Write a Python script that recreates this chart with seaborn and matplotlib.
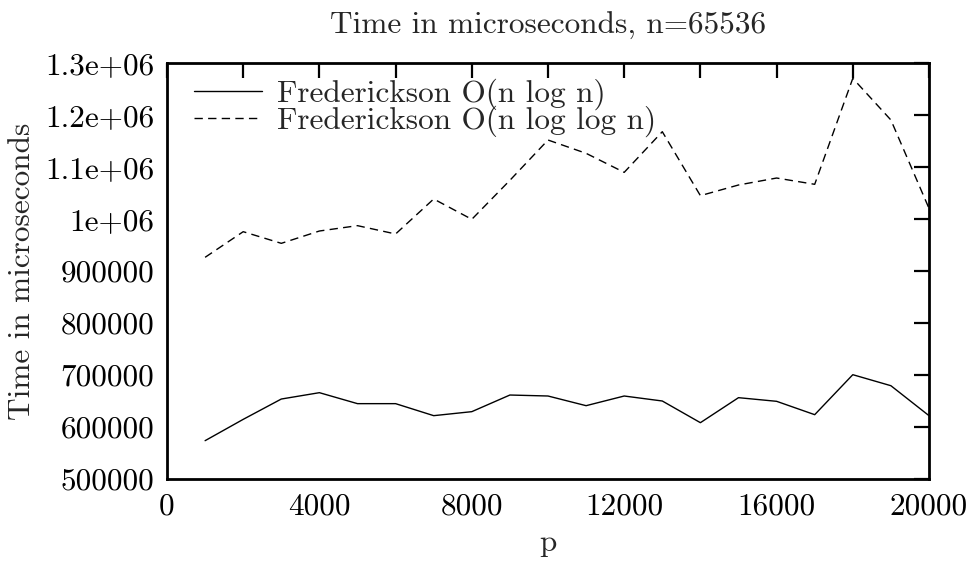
import matplotlib
matplotlib.use("Agg")
import matplotlib.pyplot as plt
import seaborn as sns
import pandas as pd

p_values = [1000, 2000, 3000, 4000, 5000, 6000, 7000, 8000, 9000, 10000,
            11000, 12000, 13000, 14000, 15000, 16000, 17000, 18000, 19000, 20000]
nlogn = [573700, 614700, 653800, 666000, 644900, 644900, 621800, 629500, 661500, 659600,
         641000, 659600, 650000, 608300, 656400, 649400, 623700, 700600, 679400, 621800]
nloglogn = [926300, 975600, 953200, 976900, 987200, 971200, 1038500, 999400, 1074400, 1151900,
            1126300, 1089700, 1167900, 1044900, 1065400, 1078800, 1066700, 1270500, 1190400, 1020500]
series_names = ["Frederickson O(n log n)", "Frederickson O(n log log n)"]
xticks = [0, 2000, 4000, 6000, 8000, 10000, 12000, 14000, 16000, 18000, 20000]
xticklabels = ["0", "", "4000", "", "8000", "", "12000", "", "16000", "", "20000"]
yticks = [500000, 600000, 700000, 800000, 900000, 1000000, 1100000, 1200000, 1300000]
yticklabels = ["500000", "600000", "700000", "800000", "900000", "1e+06", "1.1e+06", "1.2e+06", "1.3e+06"]

df = pd.DataFrame({
    "p": p_values * 2,
    "time": nlogn + nloglogn,
    "series": [series_names[0]] * len(p_values) + [series_names[1]] * len(p_values),
})

sns.set_theme(style="white")
plt.rcParams["font.family"] = ["cmr10", "DejaVu Serif"]
plt.rcParams["axes.formatter.use_mathtext"] = True
FS = 22.5

fig = plt.figure(figsize=(9.71, 5.65), dpi=100)
ax = fig.add_axes([167 / 971, 1 - 479 / 565, (929 - 167) / 971, (479 - 63) / 565])

sns.lineplot(data=df, x="p", y="time", style="series", style_order=series_names,
             dashes={series_names[0]: "", series_names[1]: (6.0, 3.8)},
             color="black", linewidth=1.0, ax=ax, legend=False)

ax.set_xlim(0, 20000)
ax.set_ylim(500000, 1300000)
ax.set_xticks(xticks)
ax.set_xticklabels(xticklabels)
ax.set_yticks(yticks)
ax.set_yticklabels(yticklabels)
ax.tick_params(direction="in", length=11, width=1.6, top=True, right=True,
               labelsize=FS, pad=9, colors="black")
ax.tick_params(axis="x", pad=10)
for s in ax.spines.values():
    s.set_visible(True)
    s.set_linewidth(2.0)
    s.set_color("black")

ax.set_xlabel("p", fontsize=FS, labelpad=6)
ax.set_ylabel("Time in microseconds", fontsize=FS, labelpad=7)
ax.set_title("Time in microseconds, n=65536", fontsize=FS, pad=21)

handles = [plt.Line2D([], [], color="black", lw=1.0),
           plt.Line2D([], [], color="black", lw=1.0, dashes=(6.0, 3.8))]
leg = ax.legend(handles, series_names, loc="upper left", frameon=False, fontsize=FS,
                handlelength=2.15, handletextpad=0.5, labelspacing=-0.16,
                borderpad=0.0, borderaxespad=0.0, bbox_to_anchor=(0.036, 0.962))

fig.savefig("out.png", dpi=100)
